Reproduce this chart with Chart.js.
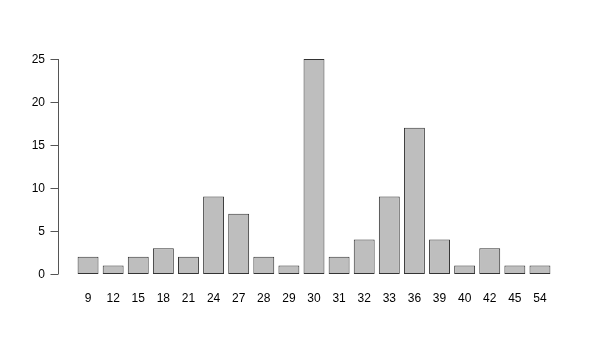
<!DOCTYPE html>
<html>
<head>
<meta charset="utf-8">
<script src="https://cdn.jsdelivr.net/npm/chart.js@4"></script>
<style>
  html, body { margin: 0; padding: 0; background: #fff; }
  #wrap { width: 600px; height: 350px; }
</style>
</head>
<body>
<div id="wrap"><canvas id="chart"></canvas></div>
<script>
// counts per value
let labelNilai = ['9', '12', '15', '18', '21', '24', '27', '28', '29', '30', '31', '32', '33', '36', '39', '40', '42', '45', '54'];
let jumlah = [2, 1, 2, 3, 2, 9, 7, 2, 1, 25, 2, 4, 9, 17, 4, 1, 3, 1, 1];
let yTicks = [0, 5, 10, 15, 20, 25];

const font = '12px "Liberation Sans", Arial, sans-serif';

// R style y axis, set off to the left of the bars
let axisKiri = {
  id: 'axisKiri',
  afterDraw(chart) {
    const ctx = chart.ctx;
    const y = chart.scales.y;
    const x0 = 58.5;
    ctx.save();
    ctx.strokeStyle = '#555';
    ctx.lineWidth = 1;
    ctx.beginPath();
    ctx.moveTo(x0, y.getPixelForValue(yTicks[0]));
    ctx.lineTo(x0, y.getPixelForValue(yTicks[yTicks.length - 1]));
    ctx.stroke();
    ctx.fillStyle = '#000';
    ctx.font = font;
    ctx.textAlign = 'right';
    ctx.textBaseline = 'middle';
    yTicks.forEach(t => {
      const py = Math.round(y.getPixelForValue(t)) + 0.5;
      ctx.beginPath();
      ctx.moveTo(x0, py);
      ctx.lineTo(x0 - 8, py);
      ctx.stroke();
      ctx.fillText(String(t), 45, py);
    });
    ctx.restore();
  }
};

let myChart = new Chart(document.getElementById('chart'), {
  type: 'bar',
  data: {
    labels: labelNilai,
    datasets: [{
      data: jumlah,
      backgroundColor: '#bebebe',
      borderColor: '#333',
      borderWidth: 1,
      borderSkipped: false,
      barPercentage: 0.833,
      categoryPercentage: 1
    }]
  },
  options: {
    responsive: true,
    maintainAspectRatio: false,
    animation: false,
    layout: { padding: { left: 75.5, right: 47.5, top: 59, bottom: 0 } },
    plugins: { legend: { display: false }, tooltip: { enabled: false } },
    scales: {
      x: {
        grid: { display: false, drawTicks: false },
        border: { display: false },
        ticks: {
          color: '#000',
          font: { family: '"Liberation Sans", Arial, sans-serif', size: 12 },
          padding: 17,
          maxRotation: 0,
          autoSkip: false
        },
        afterFit(s) { s.height = 76; }
      },
      y: {
        display: false,
        min: 0,
        max: 25
      }
    }
  },
  plugins: [axisKiri]
});
</script>
</body>
</html>
